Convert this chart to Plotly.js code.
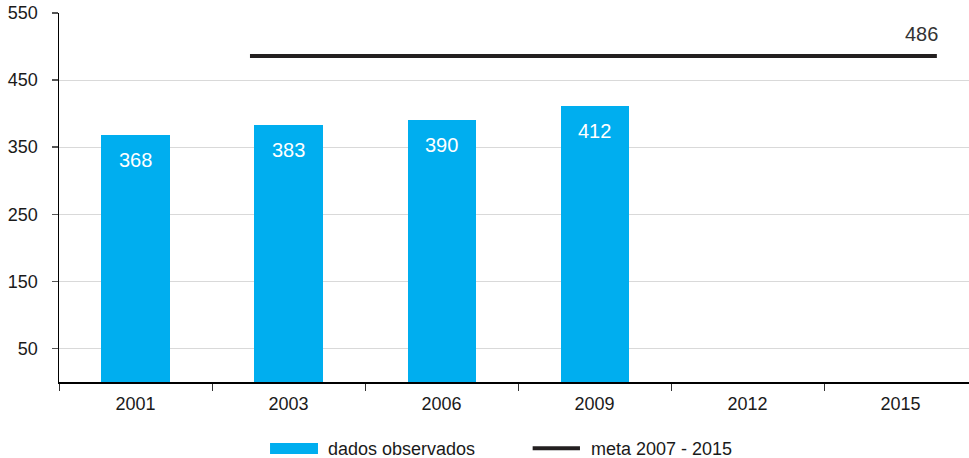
<!DOCTYPE html>
<html><head><meta charset="utf-8">
<script src="https://cdn.plot.ly/plotly-3.0.1.min.js"></script>
<style>html,body{margin:0;padding:0;background:#fff}#c{width:969px;height:458px}</style>
</head><body><div id="c"></div>
<script>
const categories = ['2001','2003','2006','2009','2012','2015'];
const observed = [368, 383, 390, 412, null, null];
const metaX = [0.748, 5.237];
const metaY = [486, 486];
const metaLabel = '486';
const yTicks = [50,150,250,350,450,550];
const seriesNames = ['dados observados', 'meta 2007 - 2015'];

const FONT = 'Liberation Sans, Arial, sans-serif';
const xr = [-0.5, 5.447];

const traces = [
  {type:'bar', x:categories, y:observed, marker:{color:'#00AEEF'}, width:0.445,
   name:seriesNames[0], showlegend:false, hoverinfo:'skip'},
  {type:'scatter', mode:'lines', x:metaX, y:metaY, xaxis:'x2',
   line:{color:'#231f20', width:4}, name:seriesNames[1], showlegend:false, hoverinfo:'skip'}
];

const annotations = [];
observed.forEach((v,i)=>{ if(v!=null) annotations.push({x:i, y:v, xref:'x2', yref:'y',
  text:String(v), showarrow:false, yshift:-25, font:{family:FONT,size:20,color:'#ffffff'}}); });
annotations.push({x:metaX[1], y:metaY[1], xref:'x2', yref:'y', text:metaLabel, showarrow:false,
  xanchor:'right', xshift:3, yshift:22, font:{family:FONT,size:20,color:'#333333'}});
annotations.push({x:0.2934, y:-0.1816, xref:'paper', yref:'paper', text:seriesNames[0], showarrow:false,
  xanchor:'left', yanchor:'middle', font:{family:FONT,size:18,color:'#1a1a1a'}});
annotations.push({x:0.5828, y:-0.1816, xref:'paper', yref:'paper', text:seriesNames[1], showarrow:false,
  xanchor:'left', yanchor:'middle', font:{family:FONT,size:18,color:'#1a1a1a'}});

const shapes = [
  {type:'rect', xref:'paper', yref:'paper', x0:0.2319, x1:0.2846, y0:-0.1951, y1:-0.1653,
   fillcolor:'#00AEEF', line:{width:0}},
  {type:'line', xref:'paper', yref:'paper', x0:0.5205, x1:0.5725, y0:-0.1797, y1:-0.1797,
   line:{color:'#231f20', width:4}}
];

const layout = {
  width:969, height:458,
  margin:{l:59, r:0, t:13, b:76, pad:0},
  paper_bgcolor:'#fff', plot_bgcolor:'#fff',
  showlegend:false,
  xaxis:{type:'category', range:xr, tickson:'boundaries', ticks:'outside', ticklen:7, tickcolor:'#333',
    showline:true, linecolor:'#000', linewidth:1.5, showgrid:false, zeroline:false,
    tickfont:{family:FONT,size:18,color:'#1a1a1a'}, ticklabelstandoff:5, fixedrange:true},
  xaxis2:{type:'linear', range:xr, overlaying:'x', visible:false, showgrid:false, zeroline:false},
  yaxis:{range:[0,550], tickvals:yTicks, ticks:'outside', ticklen:6, tickcolor:'#555', tickwidth:1.5,
    showline:true, linecolor:'#000', linewidth:1.5, showgrid:true, gridcolor:'#d9d9d9', gridwidth:1,
    zeroline:false, tickfont:{family:FONT,size:18,color:'#1a1a1a'}, ticklabelstandoff:10},
  annotations, shapes,
  bargap:0
};
Plotly.newPlot('c', traces, layout, {staticPlot:true, displayModeBar:false});
</script></body></html>
